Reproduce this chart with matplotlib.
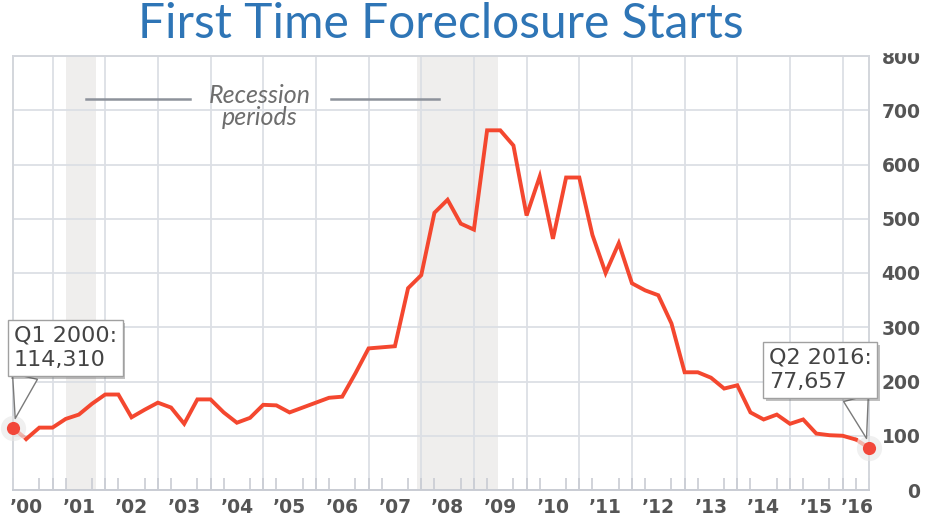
import numpy as np
import matplotlib
matplotlib.use("Agg")
import matplotlib.pyplot as plt
from matplotlib.patches import Rectangle
import matplotlib.patheffects as pe

# ---- data (thousands of first-time foreclosure starts, quarterly Q1 2000 .. Q2 2016)
start_year = 2000
starts = [114.31, 94, 115, 115,
          131, 139, 159, 176,
          176, 134, 148, 161,
          152, 122, 167, 167,
          143, 124, 133, 157,
          156, 143, 152, 161,
          170, 172, 215, 261,
          263, 265, 372, 396,
          511, 535, 491, 480,
          663, 663, 635, 506,
          578, 463, 576, 576,
          470, 400, 455, 381,
          368, 359, 307, 217,
          217, 207, 187, 193,
          143, 130, 139, 122,
          130, 104, 101, 100,
          93, 77.657]
years = list(range(2000, 2017))
year_labels = ["\u2019%02d" % (y % 100) for y in years]
y_ticks = [0, 100, 200, 300, 400, 500, 600, 700, 800]
recessions = [(2001.25, 2001.83), (2007.92, 2009.45)]
first_label = "Q1 2000:\n114,310"
last_label = "Q2 2016:\n77,657"

# quarter-end positions
t = start_year + 0.25 * (np.arange(len(starts)) + 1)
v = np.array(starts)

W, H = 927, 528
fig = plt.figure(figsize=(W / 100, H / 100), dpi=100)
ax = fig.add_axes([13 / W, 1 - 490 / H, (869 - 13) / W, (490 - 56) / H])
ax.set_xlim(t[0], t[-1])
ax.set_ylim(0, 800)

grid_c = "#dcdfe5"
for s in ["left", "top", "right"]:
    ax.spines[s].set_color("#d3d6dc")
    ax.spines[s].set_linewidth(1.4)
ax.spines["bottom"].set_color("#c9ccd3")
ax.spines["bottom"].set_linewidth(1.4)

# recession shading
for a, b in recessions:
    ax.axvspan(a, b, color="#efeeed", zorder=0, lw=0)

# gridlines
ax.set_yticks(y_ticks)
ax.yaxis.grid(True, color=grid_c, lw=1.3, zorder=1)
for y in years[1:]:
    ax.axvline(y, color=grid_c, lw=1.3, zorder=1)

# y tick labels on the right
ax.yaxis.set_ticks_position("right")
ax.tick_params(axis="y", length=0, pad=37, labelsize=13.5, labelcolor="#555555")
for lab in ax.get_yticklabels():
    lab.set_horizontalalignment("right")
    lab.set_fontweight("bold")

# x: quarterly minor ticks, year labels in the middle of each year
label_pos = [min(y + 0.5, t[-1] - 0.23) for y in years]
ax.set_xticks(label_pos)
ax.set_xticklabels(year_labels, fontsize=13.5, fontweight="bold", color="#555555")
ax.set_xticks(t, minor=True)
ax.tick_params(axis="x", which="major", length=0, pad=6)
ax.tick_params(axis="x", which="minor", direction="in", length=8.5, width=1.2, color="#c9ccd3")

# line
red = "#f4472f"
ax.plot(t[1:-1], v[1:-1], color=red, lw=2.8, zorder=4, solid_joinstyle="miter")
ax.plot(t[:2], v[:2], color=red, lw=2.8, alpha=0.35, zorder=4)
ax.plot(t[-2:], v[-2:], color=red, lw=2.8, alpha=0.35, zorder=4)
ax.scatter([t[0], t[-1]], [v[0], v[-1]], s=330, color="#e6e6e6", alpha=0.6, zorder=3, lw=0, clip_on=False)
ax.scatter([t[0], t[-1]], [v[0], v[-1]], s=90, color="#f2473a", zorder=5, lw=0, clip_on=False)

# recession legend
lg = "#8d929b"
ax.plot([0.085, 0.207], [0.901, 0.901], transform=ax.transAxes, color=lg, lw=1.8)
ax.plot([0.371, 0.498], [0.901, 0.901], transform=ax.transAxes, color=lg, lw=1.8)
ax.text(0.2886, 0.883, "Recession\nperiods", transform=ax.transAxes, ha="center", va="center",
        fontsize=18, style="italic", family="Lato", color="#6e6e6e", linespacing=0.95)

# callouts
def callout(xy, text, offset, relx):
    an = ax.annotate(text, xy=xy, xytext=offset, textcoords="offset pixels",
                     ha="left", va="center", fontsize=16, color="#444444", linespacing=1.3,
                     bbox=dict(boxstyle="square,pad=0.25", fc="white", ec="#a0a0a0", lw=1),
                     arrowprops=dict(arrowstyle="wedge,tail_width=1.15,shrink_factor=0.5",
                                     fc="white", ec="#7a7a7a",
                                     lw=1, relpos=(relx, 0.0), shrinkA=0, shrinkB=7),
                     zorder=6, annotation_clip=False)
    an.get_bbox_patch().set_path_effects([pe.SimplePatchShadow(offset=(2, -2), alpha=0.35), pe.Normal()])
    return an

callout((t[0], v[0]), first_label, (1, 80), 0.12)
callout((t[-1], v[-1]), last_label, (-100, 78), 0.83)

# cover strip (top of image cropped), then title
fig.add_artist(Rectangle((0, 1 - 52 / H), 1, 52 / H, transform=fig.transFigure,
                         color="white", zorder=8))
fig.text(441 / W, 1 - 38 / H, "First Time Foreclosure Starts", ha="center", va="baseline",
         fontsize=34.5, family="Lato", color="#2e75b6", zorder=9)

fig.savefig("out.png", dpi=100)
